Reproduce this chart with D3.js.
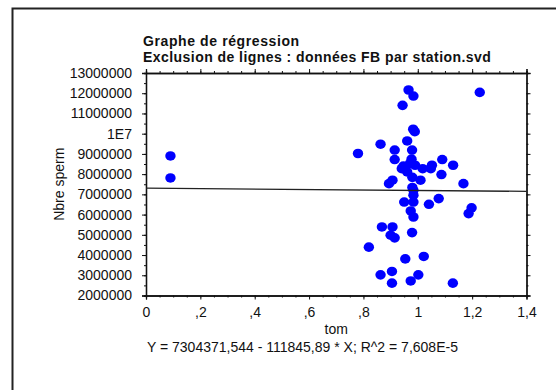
<!DOCTYPE html>
<html>
<head>
<meta charset="utf-8">
<script src="https://cdn.jsdelivr.net/npm/d3@7"></script>
<style>
  body { margin: 0; background: #fff; }
  text { font-family: "Liberation Sans", Arial, sans-serif; }
</style>
</head>
<body>
<div id="chart"></div>
<script>
// valeurs (tom, Nbre sperm)
var tom = [0.090, 0.090, 0.780, 0.863, 0.915, 0.915, 0.979, 0.961, 0.983, 0.989,
  0.944, 0.966, 0.984, 1.228, 1.090, 1.130, 1.052, 1.048, 1.018, 1.087,
  1.168, 1.010, 0.980, 0.977, 0.947, 0.971, 0.941, 0.961, 0.990, 0.894,
  0.907, 0.980, 0.984, 0.984, 0.950, 0.984, 1.041, 1.077, 1.198, 1.187,
  0.974, 0.984, 0.868, 0.907, 0.900, 0.915, 0.979, 0.820, 0.954, 1.022,
  0.863, 0.905, 0.905, 0.974, 1.002, 1.129];
var sperm = [8.90, 7.81, 9.02, 9.48, 9.19, 8.72, 9.19, 9.64, 10.22, 10.10,
  11.40, 12.16, 11.86, 12.04, 8.72, 8.44, 8.44, 8.27, 8.27, 7.98,
  7.53, 7.70, 7.84, 8.74, 8.40, 8.52, 8.27, 8.11, 8.44, 7.53,
  7.70, 7.34, 7.20, 6.96, 6.62, 6.62, 6.51, 6.79, 6.33, 6.05,
  6.18, 5.88, 5.39, 5.39, 4.98, 4.85, 5.11, 4.39, 3.81, 3.93,
  3.02, 3.19, 2.61, 2.72, 3.02, 2.61].map(d => d * 1e6);

var xTicks = [0, 0.2, 0.4, 0.6, 0.8, 1, 1.2, 1.4];
var xTickLabels = ["0", ",2", ",4", ",6", ",8", "1", "1,2", "1,4"];
var yTicks = [2e6, 3e6, 4e6, 5e6, 6e6, 7e6, 8e6, 9e6, 10e6, 11e6, 12e6, 13e6];
var yTickLabels = ["2000000", "3000000", "4000000", "5000000", "6000000", "7000000",
  "8000000", "9000000", "1E7", "11000000", "12000000", "13000000"];

// droite de regression
var intercept = 7304371.544;
var slope = -111845.89;

var data = tom.map((t, i) => ({x: t, y: sperm[i]}));

var W = 556, H = 390;
var mLeft = 146, mRight = 526.5, mTop = 73, mBottom = 295.5;

var svg = d3.select("#chart").append("svg")
    .attr("width", W)
    .attr("height", H);

// cadre
svg.append("rect")
    .attr("x", 12.5).attr("y", 8.5)
    .attr("width", 560).attr("height", 400)
    .attr("fill", "none")
    .attr("stroke", "#222")
    .attr("stroke-width", 2);

var x = d3.scaleLinear().domain([0, 1.4]).range([mLeft, mRight]);
var y = d3.scaleLinear().domain([2e6, 13e6]).range([mBottom, mTop]);

var xMinor = d3.range(0, 1.401, 0.05);
var yMinor = d3.range(2e6, 13.01e6, 5e5);

function fmt(ticks, labels) {
  return d => {
    var i = ticks.findIndex(t => Math.abs(t - d) < 1e-9 * Math.max(1, Math.abs(t)));
    return i >= 0 ? labels[i] : "";
  };
}

// axes mineurs
svg.append("g").attr("transform", "translate(0," + mBottom + ")")
    .call(d3.axisBottom(x).tickValues(xMinor).tickSize(2).tickFormat(""));
svg.append("g").attr("transform", "translate(0," + mTop + ")")
    .call(d3.axisTop(x).tickValues(xMinor).tickSize(2).tickFormat(""));
svg.append("g").attr("transform", "translate(" + mLeft + ",0)")
    .call(d3.axisLeft(y).tickValues(yMinor).tickSize(2).tickFormat(""));
svg.append("g").attr("transform", "translate(" + mRight + ",0)")
    .call(d3.axisRight(y).tickValues(yMinor).tickSize(2).tickFormat(""));

// axes majeurs
svg.append("g").attr("transform", "translate(0," + mBottom + ")")
    .call(d3.axisBottom(x).tickValues(xTicks).tickSize(4).tickPadding(8)
      .tickFormat(fmt(xTicks, xTickLabels)));
svg.append("g").attr("transform", "translate(0," + mTop + ")")
    .call(d3.axisTop(x).tickValues(xTicks).tickSize(4).tickFormat(""));
svg.append("g").attr("transform", "translate(" + mLeft + ",0)")
    .call(d3.axisLeft(y).tickValues(yTicks).tickSize(4).tickPadding(10)
      .tickFormat(fmt(yTicks, yTickLabels)));
svg.append("g").attr("transform", "translate(" + mRight + ",0)")
    .call(d3.axisRight(y).tickValues(yTicks).tickSize(4).tickFormat(""));

svg.selectAll(".domain").attr("stroke", "#111").attr("stroke-width", 1.3);
svg.selectAll(".tick line").attr("stroke", "#111");
svg.selectAll(".tick text")
    .attr("font-size", 14)
    .attr("fill", "#111")
    .style("font-family", "'Liberation Sans', Arial, sans-serif");

// points
svg.append("g").selectAll("ellipse")
    .data(data)
    .enter()
    .append("ellipse")
    .attr("cx", d => x(d.x))
    .attr("cy", d => y(d.y))
    .attr("rx", 5.2)
    .attr("ry", 4.8)
    .attr("fill", "#0000ff");

// droite
svg.append("line")
    .attr("x1", x(0)).attr("y1", y(intercept))
    .attr("x2", x(1.4)).attr("y2", y(intercept + slope * 1.4))
    .attr("stroke", "#222")
    .attr("stroke-width", 1.3);

// titres
svg.append("text").attr("x", 143).attr("y", 46)
    .attr("font-size", 14).attr("font-weight", "bold").attr("fill", "#111")
    .attr("letter-spacing", 0.6)
    .text("Graphe de régression");
svg.append("text").attr("x", 143).attr("y", 62)
    .attr("font-size", 14).attr("font-weight", "bold").attr("fill", "#111")
    .attr("letter-spacing", 0.45)
    .text("Exclusion de lignes : données FB par station.svd");

svg.append("text")
    .attr("x", (mLeft + mRight) / 2).attr("y", 334)
    .attr("text-anchor", "middle")
    .attr("font-size", 14).attr("fill", "#111")
    .text("tom");

svg.append("text")
    .attr("transform", "translate(64," + ((mTop + mBottom) / 2) + ") rotate(-90)")
    .attr("text-anchor", "middle")
    .attr("font-size", 14).attr("fill", "#111")
    .text("Nbre sperm");

svg.append("text").attr("x", 147).attr("y", 352)
    .attr("font-size", 14).attr("fill", "#111")
    .text("Y = 7304371,544 - 111845,89 * X; R^2 = 7,608E-5");
</script>
</body>
</html>
